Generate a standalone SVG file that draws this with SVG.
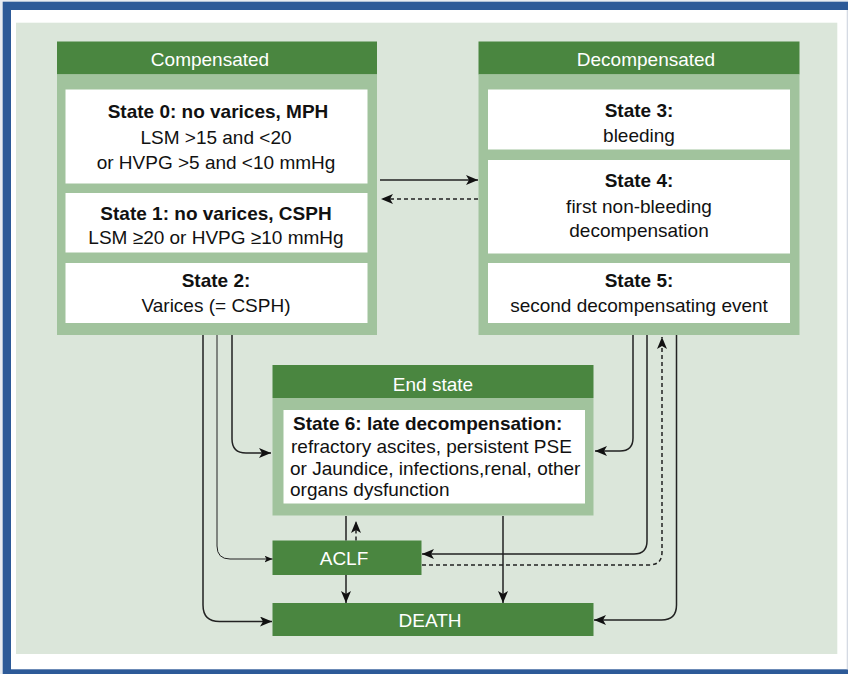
<svg xmlns="http://www.w3.org/2000/svg" width="848" height="674" viewBox="0 0 848 674">
<style>
.hdr{fill:#4a8640}
.body{fill:#a1c39d}
.box{fill:#ffffff}
text{font-family:"Liberation Sans",Arial,sans-serif;font-size:19px;fill:#111}
.ht{fill:#ffffff;text-anchor:middle}
.c{text-anchor:middle}
.b{font-weight:bold}
.ln{fill:none;stroke:#222;stroke-width:1.5}
.thin{fill:none;stroke:#222;stroke-width:1}
.dash{stroke-dasharray:4 3}
</style>
<defs>
<marker id="ah" viewBox="0 0 12 10" refX="12" refY="5" markerWidth="12" markerHeight="10" orient="auto" markerUnits="userSpaceOnUse">
<path d="M0,0 L12,5 L0,10 L3,5 z" fill="#111"/>
</marker>
<marker id="ahs" viewBox="0 0 12 10" refX="12" refY="5" markerWidth="8" markerHeight="7" orient="auto" markerUnits="userSpaceOnUse">
<path d="M0,0 L12,5 L0,10 L3,5 z" fill="#111"/>
</marker>
</defs>
<rect x="0" y="0" width="848" height="674" fill="#e9ecf1"/>
<rect x="2.7" y="1.7" width="845.3" height="672.3" fill="#2d5a98"/>
<rect x="11" y="10" width="837" height="659.3" fill="#ffffff"/>
<rect x="846.7" y="10" width="1.3" height="659.3" fill="#d5dae3"/>
<rect x="16" y="22.7" width="821.3" height="631.3" fill="#dbe6da"/>

<g id="compensated">
<rect class="hdr" x="57" y="41.5" width="320" height="33"/>
<rect class="body" x="57" y="74.5" width="320" height="260.5"/>
<text class="ht" x="210" y="66">Compensated</text>
</g>
<g id="state0">
<rect class="box" x="65.5" y="89.5" width="302" height="94"/>
<text class="c b" x="218" y="118">State 0: no varices, MPH</text>
<text class="c" x="216" y="143.5">LSM &gt;15 and &lt;20</text>
<text class="c" x="216" y="169">or HVPG &gt;5 and &lt;10 mmHg</text>
</g>
<g id="state1">
<rect class="box" x="65.5" y="193" width="302" height="59.5"/>
<text class="c b" x="216" y="220">State 1: no varices, CSPH</text>
<text class="c" x="216" y="244">LSM ≥20 or HVPG ≥10 mmHg</text>
</g>
<g id="state2">
<rect class="box" x="65.5" y="263" width="302" height="60"/>
<text class="c b" x="216" y="286.7">State 2:</text>
<text class="c" x="216" y="311.7">Varices (= CSPH)</text>
</g>

<g id="decompensated">
<rect class="hdr" x="478.5" y="41.5" width="321" height="33"/>
<rect class="body" x="478.5" y="74.5" width="321" height="260.5"/>
<text class="ht" x="646" y="66">Decompensated</text>
</g>
<g id="state3">
<rect class="box" x="488" y="89.5" width="302" height="60"/>
<text class="c b" x="639" y="117.3">State 3:</text>
<text class="c" x="639" y="141.7">bleeding</text>
</g>
<g id="state4">
<rect class="box" x="488" y="160" width="302" height="93.5"/>
<text class="c b" x="639" y="186.7">State 4:</text>
<text class="c" x="639" y="212.5">first non-bleeding</text>
<text class="c" x="639" y="236.7">decompensation</text>
</g>
<g id="state5">
<rect class="box" x="488" y="263" width="302" height="60"/>
<text class="c b" x="639" y="286.7">State 5:</text>
<text class="c" x="639" y="311.7">second decompensating event</text>
</g>

<g id="endstate">
<rect class="hdr" x="272.5" y="365" width="321" height="33"/>
<rect class="body" x="272.5" y="398" width="321" height="117.5"/>
<text class="ht" x="433" y="390.7">End state</text>
</g>
<g id="state6">
<rect class="box" x="283.5" y="410" width="301.5" height="93.5"/>
<text class="b" x="293" y="429.5">State 6: late decompensation:</text>
<text x="291" y="452.5">refractory ascites, persistent PSE</text>
<text x="290" y="474.5">or Jaundice, infections,renal, other</text>
<text x="290" y="496">organs dysfunction</text>
</g>

<g id="aclf">
<rect class="hdr" x="272.5" y="540.5" width="149" height="34.5"/>
<text class="ht" x="344" y="565">ACLF</text>
</g>
<g id="death">
<rect class="hdr" x="272.5" y="603" width="321" height="33"/>
<text class="ht" x="430" y="627">DEATH</text>
</g>

<g id="connectors">
<path class="ln" d="M380,180 H478" marker-end="url(#ah)"/>
<path class="ln dash" d="M478,199 H381" marker-end="url(#ah)"/>
<path class="ln" d="M232,335 V439 Q232,453 246,453 H271" marker-end="url(#ah)"/>
<path class="thin" d="M217,335 V546 Q217,559 230,559 H272.5" marker-end="url(#ahs)"/>
<path class="ln" d="M203,335 V605 Q203,621.5 219.5,621.5 H272" marker-end="url(#ah)"/>
<path class="ln" d="M633,335 V438 Q633,451 620,451 H595" marker-end="url(#ah)"/>
<path class="ln" d="M647,335 V541 Q647,554 634,554 H422" marker-end="url(#ah)"/>
<path class="ln dash" d="M422,565 H649 Q662,565 662,552 V337" marker-end="url(#ah)"/>
<path class="ln" d="M676.5,335 V605 Q676.5,620 661.5,620 H594" marker-end="url(#ah)"/>
<path class="ln" d="M346,516 V540.5"/>
<path class="ln dash" d="M356,540.5 V521" marker-end="url(#ah)"/>
<path class="ln" d="M346,575 V603" marker-end="url(#ah)"/>
<path class="ln" d="M503,516 V603" marker-end="url(#ah)"/>
</g>
</svg>
